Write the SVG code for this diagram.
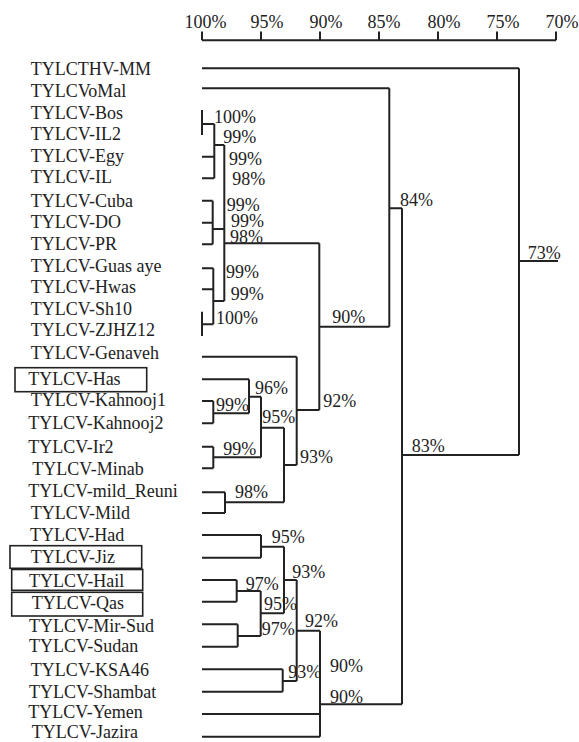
<svg xmlns="http://www.w3.org/2000/svg" width="579" height="742" viewBox="0 0 579 742">
<style>
text{font-family:"Liberation Serif","Times New Roman",serif;font-size:18px;fill:#222}
.c{fill:none;stroke:#222;stroke-width:2}
.box{fill:none;stroke:#222;stroke-width:1.6}
.s{text-anchor:middle}
</style>
<rect width="579" height="742" fill="#fff"/>
<g id="scale">
<path class="c" d="M202 40.3H556M202 31.5V40.3M261 31.5V40.3M320 31.5V40.3M379 31.5V40.3M438 31.5V40.3M497 31.5V40.3M556 31.5V40.3"/>
<text class="s" x="205.5" y="28">100%</text>
<text class="s" x="267" y="28">95%</text>
<text class="s" x="326" y="28">90%</text>
<text class="s" x="384" y="28">85%</text>
<text class="s" x="444" y="28">80%</text>
<text class="s" x="503" y="28">75%</text>
<text class="s" x="562" y="28">70%</text>
</g>
<g id="leaves">
<g id="n-MM"><text x="30.7" y="75">TYLCTHV-MM</text></g>
<g id="n-VoMal"><text x="30.7" y="96.7">TYLCVoMal</text></g>
<g id="n-Bos"><text x="30.7" y="119">TYLCV-Bos</text></g>
<g id="n-IL2"><text x="30.7" y="140">TYLCV-IL2</text></g>
<g id="n-Egy"><text x="30.7" y="161.7">TYLCV-Egy</text></g>
<g id="n-IL"><text x="30.7" y="183.3">TYLCV-IL</text></g>
<g id="n-Cuba"><text x="30.7" y="206.7">TYLCV-Cuba</text></g>
<g id="n-DO"><text x="30.7" y="228.3">TYLCV-DO</text></g>
<g id="n-PR"><text x="30.7" y="250">TYLCV-PR</text></g>
<g id="n-Guas"><text x="30.7" y="271.7">TYLCV-Guas aye</text></g>
<g id="n-Hwas"><text x="30.7" y="293.3">TYLCV-Hwas</text></g>
<g id="n-Sh10"><text x="30.7" y="315">TYLCV-Sh10</text></g>
<g id="n-ZJHZ12"><text x="30.7" y="336">TYLCV-ZJHZ12</text></g>
<g id="n-Genaveh"><text x="30.7" y="359">TYLCV-Genaveh</text></g>
<g id="n-Has"><rect class="box" x="15" y="367.7" width="131.7" height="24"/><text x="28.3" y="385">TYLCV-Has</text></g>
<g id="n-Kahnooj1"><text x="30.7" y="406">TYLCV-Kahnooj1</text></g>
<g id="n-Kahnooj2"><text x="28.3" y="429.3">TYLCV-Kahnooj2</text></g>
<g id="n-Ir2"><text x="28.3" y="453.3">TYLCV-Ir2</text></g>
<g id="n-Minab"><text x="32.3" y="475">TYLCV-Minab</text></g>
<g id="n-mildReuni"><text x="28.3" y="496.7">TYLCV-mild_Reuni</text></g>
<g id="n-Mild"><text x="30.7" y="518.5">TYLCV-Mild</text></g>
<g id="n-Had"><text x="30" y="540.7">TYLCV-Had</text></g>
<g id="n-Jiz"><rect class="box" x="10" y="545.7" width="131.7" height="22.6"/><text x="30.7" y="563.3">TYLCV-Jiz</text></g>
<g id="n-Hail"><rect class="box" x="11.7" y="569.5" width="131" height="20.8"/><text x="29" y="586.7">TYLCV-Hail</text></g>
<g id="n-Qas"><rect class="box" x="11.7" y="592.3" width="131" height="23.7"/><text x="31.7" y="609">TYLCV-Qas</text></g>
<g id="n-MirSud"><text x="29" y="631.7">TYLCV-Mir-Sud</text></g>
<g id="n-Sudan"><text x="29" y="651.7">TYLCV-Sudan</text></g>
<g id="n-KSA46"><text x="30.7" y="675.7">TYLCV-KSA46</text></g>
<g id="n-Shambat"><text x="29" y="698.3">TYLCV-Shambat</text></g>
<g id="n-Yemen"><text x="28.3" y="718">TYLCV-Yemen</text></g>
<g id="n-Jazira"><text x="31.7" y="738">TYLCV-Jazira</text></g>
</g>
<g id="connectors">
<path class="c" d="M202 68.3H519M202 88.3H389.3
M202 110V135M202 124H214.3M202 156.7H214.3M202 178.3H214.3M214.3 124V178.3M214.3 145H224.3
M202 200.7H212.7M202 222.7H212.7M202 244.3H212.7M212.7 200.7V244.3M212.7 229H224.3
M202 268.3H213.3M202 289.3H213.3M202 311.7V336M202 324.3H213.3M213.3 268.3V324.3M213.3 301H224.3
M224.3 145V301M224.3 243.3H319.3M319.3 243.3V410M319.3 326.7H389.3M389.3 88.3V326.7M389.3 208.3H402M402 208.3V704.3M402 455H519M519 68.3V455M519 261H558
M202 356.7H296.7M296.7 356.7V465M296.7 410H319.3
M202 379.3H249M202 401H213.3M202 423.3H213.3M213.3 401V423.3M213.3 413.3H249M249 379.3V413.3M249 396.7H261
M202 446.7H213.3M202 468.3H213.3M213.3 446.7V468.3M213.3 457.3H261M261 396.7V457.3M261 427.7H284
M202 492.3H225M202 513H225M225 492.3V513M225 502.3H284M284 427.7V502.3M284 465H296.7
M202 535H261M202 557.7H261M261 535V557.7M261 546.7H284
M202 580H236.7M202 601.7H236.7M236.7 580V601.7M236.7 591H260.7
M202 624.3H237.7M202 646.7H237.7M237.7 624.3V646.7M237.7 636H260.7
M260.7 591V636M260.7 613.3H284M284 546.7V613.3M284 580H296.7
M202 669.3H282.7M202 691.7H282.7M282.7 669.3V691.7M282.7 681H296.7
M296.7 580V681M296.7 630.7H320
M202 714H320M202 736.7H320M320 630.7V736.7M320 704.3H402"/>
</g>
<g id="support-labels">
<text x="214" y="123.3">100%</text>
<text x="223.3" y="143.3">99%</text>
<text x="229" y="165">99%</text>
<text x="232.3" y="185">98%</text>
<text x="226.7" y="210.5">99%</text>
<text x="231" y="226.7">99%</text>
<text x="230" y="243">98%</text>
<text x="226" y="278.3">99%</text>
<text x="230.7" y="300">99%</text>
<text x="216" y="324.3">100%</text>
<text x="332.3" y="323.3">90%</text>
<text x="400" y="205.7">84%</text>
<text x="527.7" y="259">73%</text>
<text x="255" y="394.3">96%</text>
<text x="216" y="411">99%</text>
<text x="323.3" y="407.3">92%</text>
<text x="262.3" y="423.3">95%</text>
<text x="223.3" y="455">99%</text>
<text x="300" y="463.3">93%</text>
<text x="235" y="498.3">98%</text>
<text x="411.7" y="451.7">83%</text>
<text x="271.7" y="543.3">95%</text>
<text x="292.3" y="577.7">93%</text>
<text x="245.7" y="590">97%</text>
<text x="264" y="610">95%</text>
<text x="261.7" y="635">97%</text>
<text x="305" y="627.3">92%</text>
<text x="288.3" y="678.3">93%</text>
<text x="330" y="671.7">90%</text>
<text x="330" y="702.7">90%</text>
</g>
</svg>
